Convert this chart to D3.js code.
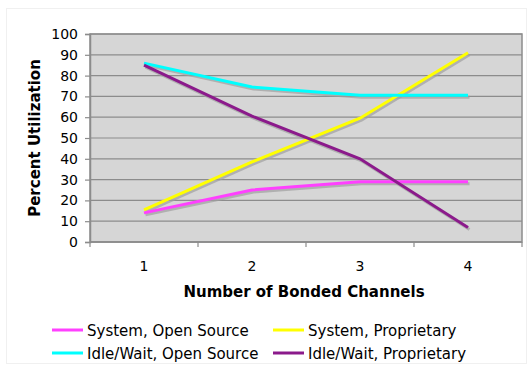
<!DOCTYPE html>
<html><head><meta charset="utf-8">
<script src="https://cdn.jsdelivr.net/npm/d3@7"></script>
<style>body{margin:0;background:#fff}svg{display:block}text{font-family:"DejaVu Sans",Verdana,sans-serif}</style>
</head><body>
<script>
const categories = ["1", "2", "3", "4"];
const yTicks = [0, 10, 20, 30, 40, 50, 60, 70, 80, 90, 100];
const seriesNames = ["System, Open Source", "System, Proprietary", "Idle/Wait, Open Source", "Idle/Wait, Proprietary"];
const seriesColors = ["#ff40ff", "#ffff00", "#00ffff", "#8b1a8b"];
const systemOpen = [14, 25, 29, 29];
const systemProp = [15.5, 38.5, 59.5, 91];
const idleOpen = [86, 74.5, 70.5, 70.5];
const idleProp = [85, 60.5, 40, 7];
const seriesValues = [systemOpen, systemProp, idleOpen, idleProp];

const W = 528, H = 365;
const m = {left: 90, right: 6, top: 34, bottom: 123};
const svg = d3.select("body").append("svg").attr("width", W).attr("height", H);

// faint outer frame
svg.append("rect").attr("x", 6.5).attr("y", 8.5).attr("width", W - 8).attr("height", H - 10)
  .attr("fill", "none").attr("stroke", "#f0f0f0");

const x = d3.scaleBand().domain(categories).range([m.left, W - m.right]);
const y = d3.scaleLinear().domain([0, 100]).range([H - m.bottom, m.top]);

// plot background
svg.append("rect").attr("x", m.left).attr("y", m.top)
  .attr("width", W - m.right - m.left).attr("height", H - m.bottom - m.top)
  .attr("fill", "#d6d6d6").attr("stroke", "#8c8c8c").attr("stroke-width", 1.5);

// horizontal gridlines
svg.append("g").selectAll("line").data(yTicks).join("line")
  .attr("x1", m.left).attr("x2", W - m.right)
  .attr("y1", d => y(d)).attr("y2", d => y(d))
  .attr("stroke", "#8c8c8c").attr("stroke-width", 1.2);

// y axis
const yAxis = svg.append("g").attr("transform", `translate(${m.left},0)`)
  .call(d3.axisLeft(y).tickValues(yTicks).tickSize(5).tickPadding(7));
yAxis.select(".domain").attr("stroke", "#8c8c8c").attr("stroke-width", 1.5);
yAxis.selectAll(".tick line").attr("stroke", "#8c8c8c").attr("stroke-width", 1.2);
yAxis.selectAll("text").attr("font-size", 14).attr("fill", "#000");

// x axis with ticks at category boundaries
const xg = svg.append("g").attr("transform", `translate(0,${H - m.bottom})`);
xg.append("line").attr("x1", m.left).attr("x2", W - m.right).attr("stroke", "#8c8c8c").attr("stroke-width", 1.5);
const bounds = categories.map(c => x(c)).concat([x(categories[categories.length - 1]) + x.bandwidth()]);
xg.selectAll("line.tk").data(bounds).join("line").attr("class", "tk")
  .attr("x1", d => d).attr("x2", d => d).attr("y1", 0).attr("y2", 5)
  .attr("stroke", "#8c8c8c").attr("stroke-width", 1.2);
xg.selectAll("text").data(categories).join("text")
  .attr("x", d => x(d) + x.bandwidth() / 2).attr("y", 29)
  .attr("text-anchor", "middle").attr("font-size", 14).text(d => d);

// axis titles
svg.append("text").attr("x", 304).attr("y", 297).attr("text-anchor", "middle")
  .attr("font-size", 15).attr("font-weight", "bold").text("Number of Bonded Channels");
svg.append("text").attr("transform", `translate(40,${(m.top + H - m.bottom) / 2}) rotate(-90)`)
  .attr("text-anchor", "middle").attr("font-size", 15).attr("font-weight", "bold").text("Percent Utilization");

// series lines with a soft drop shadow
const line = d3.line().x((d, i) => x(categories[i]) + x.bandwidth() / 2).y(d => y(d));
const lines = svg.append("g");
seriesValues.forEach((vals, k) => {
  lines.append("path").attr("d", line(vals)).attr("fill", "none")
    .attr("stroke", "#a0a0a0").attr("stroke-width", 3).attr("opacity", 0.7)
    .attr("transform", "translate(1.5,2)");
});
seriesValues.forEach((vals, k) => {
  lines.append("path").attr("d", line(vals)).attr("fill", "none")
    .attr("stroke", seriesColors[k]).attr("stroke-width", 3);
});

// legend
const legPos = [[52, 336], [273, 336], [52, 359], [273, 359]];
const leg = svg.append("g");
seriesNames.forEach((name, k) => {
  const [lx, ly] = legPos[k];
  leg.append("line").attr("x1", lx).attr("x2", lx + 31).attr("y1", ly - 6).attr("y2", ly - 6)
    .attr("stroke", seriesColors[k]).attr("stroke-width", 3);
  leg.append("text").attr("x", lx + 35).attr("y", ly).attr("font-size", 15).text(name);
});
</script>
</body></html>
